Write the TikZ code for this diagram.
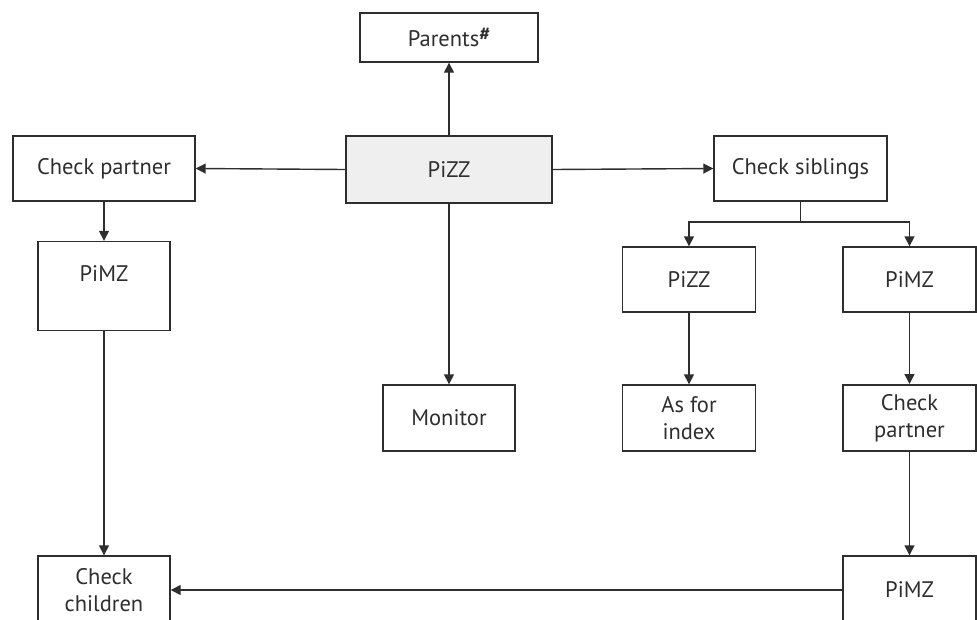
\documentclass[tikz,border=0pt]{standalone}
\usepackage{fontspec}
\setmainfont{PT Sans}
\usetikzlibrary{arrows.meta}
\definecolor{ln}{HTML}{2E2E2E}
\definecolor{boxgray}{HTML}{EFEFEF}
\tikzset{
  box/.style={draw=ln, line width=1.4pt, inner sep=0pt, align=center, font=\fontsize{22.5}{27}\selectfont, text=ln},
  arr/.style={draw=ln, line width=1.4pt, -{Triangle[length=10pt,width=10pt]}},
  ln/.style={draw=ln, line width=1.4pt}
}
\begin{document}
\begin{tikzpicture}[x=1pt,y=-1pt]
\useasboundingbox (0,0) rectangle (977,619);
\clip (0,0) rectangle (977,619);
\node[box, minimum width=178pt, minimum height=49pt] (parents) at (449,37.5) {Parents\raisebox{0.3em}{\fontsize{19}{19}\selectfont\bfseries\#}};
\node[box, fill=boxgray, minimum width=206pt, minimum height=67pt] (pizz) at (449,169.5) {PiZZ};
\node[box, minimum width=182pt, minimum height=65pt] (cpl) at (104,168.5) {Check partner};
\node[box, minimum width=132pt, minimum height=89pt, label={[name=pimzlt, yshift=12pt, font=\fontsize{22.5}{27}\selectfont, text=ln]center:PiMZ}] (pimzl) at (104,286) {};
\node[box, minimum width=132pt, minimum height=66pt] (monitor) at (449,418) {Monitor};
\node[box, minimum width=173pt, minimum height=65pt] (csib) at (800.5,168.5) {Check siblings};
\node[box, minimum width=133pt, minimum height=65pt] (pizzr) at (689,279.5) {PiZZ};
\node[box, minimum width=133pt, minimum height=65pt] (pimzr) at (909.5,279.5) {PiMZ};
\node[box, minimum width=133pt, minimum height=66pt] (asfor) at (689,418) {As for\\index};
\node[box, line width=2pt, minimum width=133pt, minimum height=66pt] (cpr) at (909.5,418) {Check\\partner};
\node[box, minimum width=132pt, minimum height=68pt] (cch) at (104,590) {Check\\children};
\node[box, minimum width=133pt, minimum height=68pt] (pimzb) at (909.5,590) {PiMZ};
\coordinate (br) at (800.5,222);
\draw[arr] (pizz) -- (parents);
\draw[arr] (pizz.west) -- (cpl.east);
\draw[arr] (pizz.east) -- (csib.west);
\draw[arr] (pizz) -- (monitor);
\draw[arr] (cpl) -- (pimzl);
\draw[arr] (pimzl) -- (cch);
\draw[ln] (csib.south) -- (br);
\draw[arr] (br) -| (pizzr.north);
\draw[arr] (br) -| (pimzr.north);
\draw[arr] (pizzr) -- (asfor);
\draw[arr] (pimzr) -- (cpr);
\draw[arr] (cpr) -- (pimzb);
\draw[arr] (pimzb.west) -- (cch.east);
\end{tikzpicture}
\end{document}
